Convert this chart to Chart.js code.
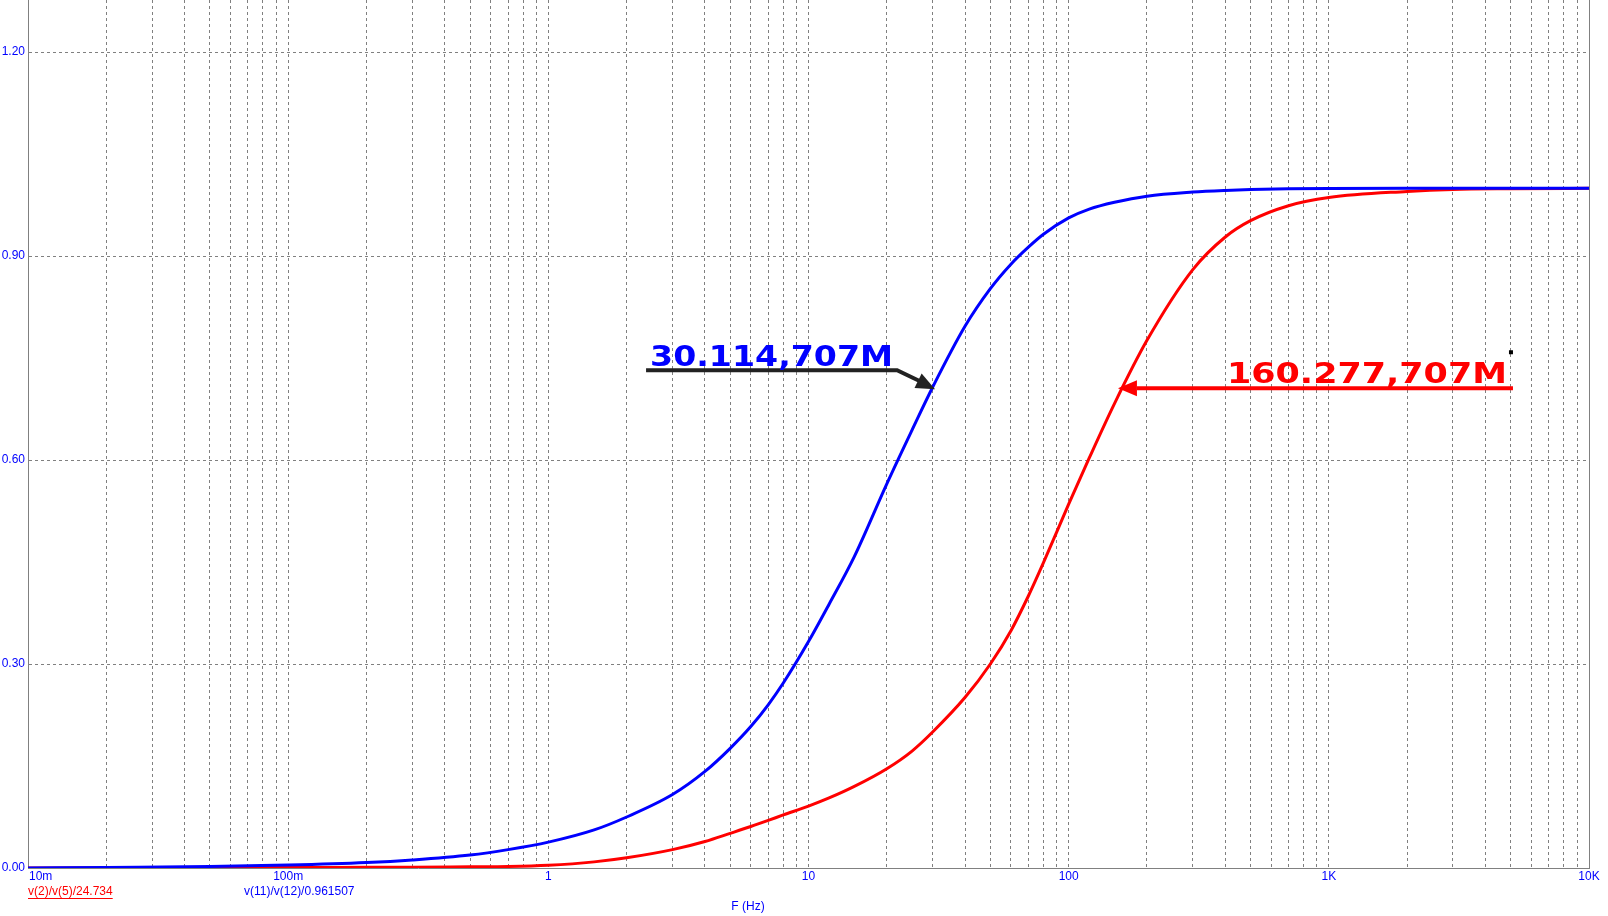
<!DOCTYPE html>
<html>
<head>
<meta charset="utf-8">
<title>F (Hz)</title>
<script src="https://cdn.jsdelivr.net/npm/chart.js@4.4.1/dist/chart.umd.min.js"></script>
<style>
  html, body { margin: 0; padding: 0; background: #fff; }
  #wrap { width: 1608px; height: 916px; }
</style>
</head>
<body>
<div id="wrap"><canvas id="chart" width="1608" height="916"></canvas></div>
<script>
// sweep points (Hz), shared by both traces
const freqs = [0.01, 0.02, 0.05, 0.1, 0.2, 0.3, 0.5, 0.7, 1, 1.5, 2, 3, 4, 5, 6, 7, 8, 10, 12, 15,
  20, 25, 30, 40, 50, 60, 70, 80, 100, 120, 150, 200, 300, 400, 500, 700, 1000, 2000, 3000, 5000, 10000];
const blueVals = [0, 0.0009, 0.0022, 0.0043, 0.008, 0.0118, 0.019, 0.027, 0.038, 0.056, 0.075, 0.108,
  0.142, 0.176, 0.208, 0.240, 0.272, 0.333, 0.388, 0.458, 0.565, 0.644, 0.707, 0.797, 0.852, 0.888,
  0.913, 0.932, 0.956, 0.969, 0.979, 0.988, 0.994, 0.9965, 0.9978, 0.9988, 0.9993, 0.9995, 0.9995, 0.9995, 0.9995];
const redVals = [0, 0.0002, 0.0003, 0.0006, 0.001, 0.0012, 0.0018, 0.0022, 0.004, 0.009, 0.015, 0.027,
  0.039, 0.051, 0.061, 0.070, 0.078, 0.091, 0.103, 0.120, 0.146, 0.172, 0.200, 0.251, 0.300, 0.349,
  0.400, 0.449, 0.535, 0.603, 0.683, 0.776, 0.880, 0.928, 0.952, 0.974, 0.986, 0.995, 0.998, 0.999, 0.9995];

const seriesNames = ['v(11)/v(12)/0.961507', 'v(2)/v(5)/24.734'];
const decadeTicks = [0.01, 0.1, 1, 10, 100, 1000, 10000];
const decadeLabels = ['10m', '100m', '1', '10', '100', '1K', '10K'];
const yTicks = [0, 0.3, 0.6, 0.9, 1.2];
const xTitle = 'F (Hz)';

// cursor readouts
const markFreqs = [30.114, 160.277];
const markVals = [0.707, 0.707];
const markTexts = ['30.114,707M', '160.277,707M'];

const BLUE = '#0000ff';
const RED = '#ff0000';
const GRID = '#808080';
const SMALL_FONT = '12px "Liberation Sans", Arial, sans-serif';

function stretchedText(ctx, text, left, baseline, width, color) {
  ctx.save();
  ctx.font = 'bold 29px "DejaVu Sans", sans-serif';
  const w = ctx.measureText(text).width;
  ctx.translate(left, baseline);
  ctx.scale(width / w, 1);
  ctx.fillStyle = color;
  ctx.textAlign = 'left';
  ctx.textBaseline = 'alphabetic';
  ctx.fillText(text, 0, 0);
  ctx.restore();
}

function arrowHead(ctx, tipX, tipY, fromX, fromY, len, half, color) {
  const dx = tipX - fromX, dy = tipY - fromY;
  const d = Math.hypot(dx, dy);
  const ux = dx / d, uy = dy / d;
  const bx = tipX - ux * len, by = tipY - uy * len;
  ctx.fillStyle = color;
  ctx.beginPath();
  ctx.moveTo(tipX, tipY);
  ctx.lineTo(bx - uy * half, by + ux * half);
  ctx.lineTo(bx + uy * half, by - ux * half);
  ctx.closePath();
  ctx.fill();
}

const overlay = {
  id: 'overlay',
  afterDraw(chart) {
    const ctx = chart.ctx;
    const xs = chart.scales.x, ys = chart.scales.y;
    const area = chart.chartArea;
    ctx.save();

    // right frame
    ctx.strokeStyle = GRID;
    ctx.lineWidth = 1;
    const rx = Math.round(area.right) + 0.5;
    ctx.beginPath();
    ctx.moveTo(rx, area.top);
    ctx.lineTo(rx, area.bottom);
    ctx.stroke();

    // axis labels
    ctx.font = SMALL_FONT;
    ctx.fillStyle = BLUE;
    ctx.textBaseline = 'middle';
    decadeTicks.forEach((v, i) => {
      const px = xs.getPixelForValue(v);
      ctx.textAlign = i === 0 ? 'left' : 'center';
      ctx.fillText(decadeLabels[i], i === 0 ? px + 1 : px, area.bottom + 9);
    });
    ctx.textAlign = 'right';
    yTicks.forEach(v => {
      ctx.fillText(v.toFixed(2), area.left - 3, ys.getPixelForValue(v));
    });
    ctx.textAlign = 'center';
    ctx.fillText(xTitle, 748, 907);

    // trace names
    ctx.textAlign = 'left';
    ctx.fillStyle = RED;
    ctx.fillText(seriesNames[1], area.left, 892);
    const nw = ctx.measureText(seriesNames[1]).width;
    ctx.fillRect(area.left, 898, nw, 1);
    ctx.fillStyle = BLUE;
    ctx.fillText(seriesNames[0], 244, 892);

    // blue cursor readout
    let tx = xs.getPixelForValue(markFreqs[0]);
    let ty = ys.getPixelForValue(markVals[0]);
    ctx.strokeStyle = '#222222';
    ctx.lineWidth = 4;
    ctx.beginPath();
    ctx.moveTo(tx - 287, ty - 17);
    ctx.lineTo(tx - 36, ty - 17);
    ctx.lineTo(tx - 13, ty - 6);
    ctx.stroke();
    arrowHead(ctx, tx + 2, ty + 2, tx - 36, ty - 17, 19, 8, '#222222');
    stretchedText(ctx, markTexts[0], tx - 283, ty - 21, 243, BLUE);

    // red cursor readout
    tx = xs.getPixelForValue(markFreqs[1]);
    ty = ys.getPixelForValue(markVals[1]);
    ctx.strokeStyle = RED;
    ctx.lineWidth = 4;
    ctx.beginPath();
    ctx.moveTo(tx + 15, ty + 1);
    ctx.lineTo(tx + 391, ty + 1);
    ctx.stroke();
    arrowHead(ctx, tx - 4, ty + 1, tx + 30, ty + 1, 19, 8, RED);
    stretchedText(ctx, markTexts[1], tx + 105, ty - 4, 280, RED);
    ctx.fillStyle = '#000';
    ctx.fillRect(tx + 387, ty - 37, 4, 4);

    ctx.restore();
  }
};

new Chart(document.getElementById('chart'), {
  type: 'line',
  data: {
    datasets: [
      {
        label: seriesNames[0],
        data: freqs.map((f, i) => ({ x: f, y: blueVals[i] })),
        borderColor: BLUE,
        borderWidth: 3,
        pointRadius: 0,
        cubicInterpolationMode: 'monotone',
        fill: false
      },
      {
        label: seriesNames[1],
        data: freqs.map((f, i) => ({ x: f, y: redVals[i] })),
        borderColor: RED,
        borderWidth: 3,
        pointRadius: 0,
        cubicInterpolationMode: 'monotone',
        fill: false
      }
    ]
  },
  options: {
    responsive: false,
    animation: false,
    layout: { padding: { left: 0, right: 19, top: 0, bottom: 0 } },
    plugins: {
      legend: { display: false },
      tooltip: { enabled: false }
    },
    scales: {
      x: {
        type: 'logarithmic',
        min: 0.01,
        max: 10000,
        afterBuildTicks: scale => {
          const t = [];
          decadeTicks.forEach((d, i) => {
            if (i === decadeTicks.length - 1) {
              t.push({ value: d });
            } else {
              for (let m = 1; m <= 9; m++) t.push({ value: m * d });
            }
          });
          scale.ticks = t;
        },
        afterFit: scale => { scale.height = 48; },
        ticks: { display: false },
        grid: { color: GRID, lineWidth: 1, drawTicks: false, tickLength: 0 },
        border: { display: true, color: GRID, width: 1, dash: [3, 3] }
      },
      y: {
        min: 0,
        max: 1.2765,
        afterBuildTicks: scale => {
          scale.ticks = yTicks.map(v => ({ value: v }));
        },
        afterFit: scale => { scale.width = 28; },
        ticks: { display: false },
        grid: { color: GRID, lineWidth: 1, drawTicks: false, tickLength: 0 },
        border: { display: true, color: GRID, width: 1, dash: [3, 3] }
      }
    }
  },
  plugins: [overlay]
});
</script>
</body>
</html>
